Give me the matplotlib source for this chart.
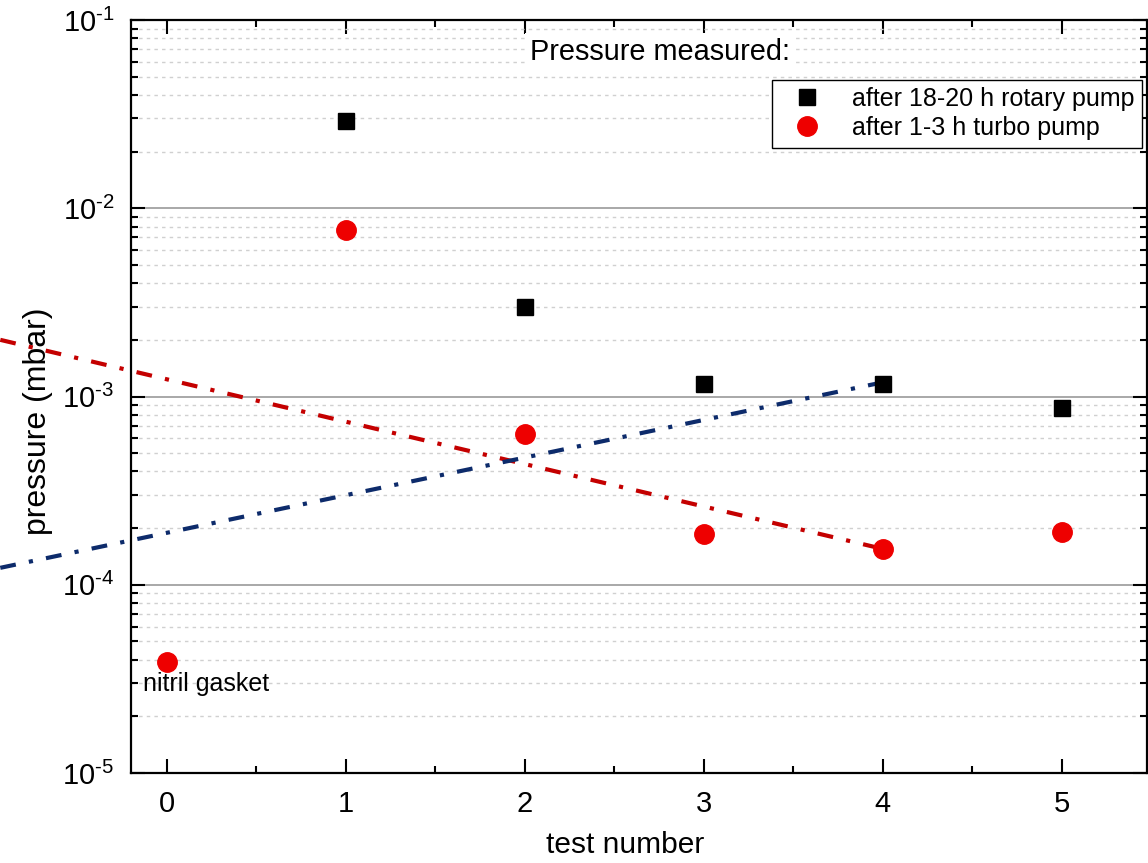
import matplotlib
matplotlib.use("Agg")
import matplotlib.pyplot as plt
from matplotlib.ticker import LogLocator, MultipleLocator, NullFormatter, FuncFormatter
import numpy as np

plt.rcParams['font.family'] = ['Liberation Sans', 'DejaVu Sans']
plt.rcParams['mathtext.fontset'] = 'custom'
plt.rcParams['mathtext.rm'] = 'Liberation Sans'
plt.rcParams['axes.unicode_minus'] = False

# data
rotary_x = [1, 2, 3, 4, 5]
rotary_p = [2.9e-2, 3.0e-3, 1.16e-3, 1.17e-3, 8.7e-4]

turbo_x = [0, 1, 2, 3, 4, 5]
turbo_p = [3.9e-5, 7.7e-3, 6.3e-4, 1.87e-4, 1.55e-4, 1.91e-4]

# hand drawn trend lines (start, end)
red_line_x = [-0.93, 4.0]
red_line_p = [2.0e-3, 1.55e-4]
blue_line_x = [-0.93, 4.0]
blue_line_p = [1.23e-4, 1.19e-3]

fig = plt.figure(figsize=(11.48, 8.63), dpi=100)
ax = fig.add_axes([0.1141, 0.1043, 0.885, 0.8725])

ax.set_yscale('log')
ax.set_ylim(1e-5, 1e-1)
ax.set_xlim(-0.2, 5.475)

ax.plot(rotary_x, rotary_p, 's', color='black', markersize=11.5, linestyle='none',
        label='after 18-20 h rotary pump', zorder=4)
ax.plot(turbo_x, turbo_p, 'o', color='#ee0000', markersize=14, linestyle='none',
        label='after 1-3 h turbo pump', zorder=4)

ax.plot(red_line_x, red_line_p, color='#c40000', linewidth=3.0,
        dashes=(3.8, 3.2, 1.0, 3.2), clip_on=False, zorder=3)
ax.plot(blue_line_x, blue_line_p, color='#0d2b6b', linewidth=3.0,
        dashes=(3.8, 3.2, 1.0, 3.2), clip_on=False, zorder=3)

ax.xaxis.set_major_locator(MultipleLocator(1))
ax.xaxis.set_minor_locator(MultipleLocator(0.5))
ax.yaxis.set_major_locator(LogLocator(base=10, numticks=10))
ax.yaxis.set_minor_locator(LogLocator(base=10, subs=range(2, 10), numticks=20))
ax.yaxis.set_minor_formatter(NullFormatter())
# superscript with a plain hyphen, as in the original
ax.yaxis.set_major_formatter(FuncFormatter(
    lambda v, pos: r'$10^{\text{-}%d}$' % abs(int(round(np.log10(v))))))

ax.grid(True, which='major', axis='y', color='#9a9a9a', linewidth=1.2, linestyle='-')
ax.grid(True, which='minor', axis='y', color='#d0d0d0', linewidth=1.0, linestyle=(0, (2.5, 3)))
ax.set_axisbelow(True)

ax.tick_params(which='both', direction='in', top=True, right=True, labelsize=21, width=1.5)
ax.tick_params(which='major', length=10, pad=12)
ax.tick_params(which='minor', length=5)
for sp in ax.spines.values():
    sp.set_linewidth(1.6)

ax.set_xlabel('test number', fontsize=21.5)
ax.xaxis.set_label_coords(0.486, -0.0956)
ax.xaxis.label.set_va('center')
ax.set_ylabel('pressure (mbar)', fontsize=23)
ax.yaxis.set_label_coords(-0.092, 0.467)
ax.yaxis.label.set_va('center')

ax.text(0.521, 0.957, 'Pressure measured:', transform=ax.transAxes, fontsize=20.8,
        ha='center', va='center', zorder=5,
        bbox=dict(facecolor='white', edgecolor='none', pad=4))
ax.text(0.012, 0.118, 'nitril gasket', transform=ax.transAxes, fontsize=18,
        ha='left', va='center', zorder=5)

leg = ax.legend(loc='upper right', bbox_to_anchor=(0.995, 0.921), fontsize=18,
                frameon=True, fancybox=False, edgecolor='black', framealpha=1,
                borderpad=0.3, handletextpad=0.7, labelspacing=0.2,
                handlelength=2.2, borderaxespad=0)
leg.get_frame().set_linewidth(1.0)
leg.set_zorder(6)

fig.savefig('out.png', dpi=100)
